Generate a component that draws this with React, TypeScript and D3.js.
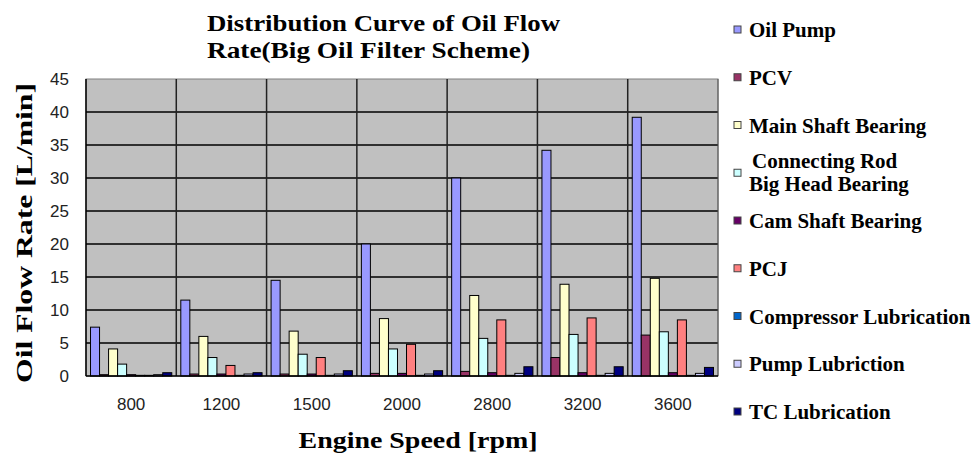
import React from "react";
import * as d3 from "d3";

const categories = ["800", "1200", "1500", "2000", "2800", "3200", "3600"];
const seriesNames = [
  "Oil Pump",
  "PCV",
  "Main Shaft Bearing",
  "Connecting Rod\nBig Head Bearing",
  "Cam Shaft Bearing",
  "PCJ",
  "Compressor Lubrication",
  "Pump Lubriction",
  "TC Lubrication",
];
const oilPump = [7.4, 11.5, 14.5, 20.0, 30.0, 34.2, 39.2];
const pcv = [0.2, 0.3, 0.3, 0.4, 0.7, 2.8, 6.2];
const mainShaft = [4.1, 6.0, 6.8, 8.7, 12.2, 13.9, 14.8];
const connRod = [1.8, 2.8, 3.3, 4.1, 5.7, 6.3, 6.7];
const camShaft = [0.2, 0.3, 0.3, 0.4, 0.5, 0.5, 0.5];
const pcj = [0.1, 1.6, 2.8, 4.8, 8.5, 8.8, 8.5];
const compressor = [0.1, 0.1, 0.1, 0.1, 0.1, 0.1, 0.1];
const pumpLub = [0.2, 0.3, 0.3, 0.3, 0.4, 0.4, 0.4];
const tcLub = [0.5, 0.5, 0.8, 0.8, 1.4, 1.4, 1.3];
const yTicks = [0, 5, 10, 15, 20, 25, 30, 35, 40, 45];

const seriesValues = [oilPump, pcv, mainShaft, connRod, camShaft, pcj, compressor, pumpLub, tcLub];
const colors = ["#9999FF", "#993366", "#FFFFCC", "#CCFFFF", "#660066", "#FF8080", "#0066CC", "#CCCCFF", "#000080"];

export default function App() {
  const W = 979, H = 462;
  const plot = { left: 86, right: 718, top: 79, bottom: 376 };
  const x0 = d3.scaleBand<string>().domain(categories).range([plot.left, plot.right]).paddingInner(0).paddingOuter(0);
  const x1 = d3
    .scaleBand<number>()
    .domain(seriesNames.map((_, i) => i))
    .range([0, x0.bandwidth()])
    .paddingInner(0)
    .paddingOuter(0.5);
  const y = d3.scaleLinear().domain([0, 45]).range([plot.bottom, plot.top]);
  const legendY = d3.scaleLinear().domain([0, 8]).range([37, 419]);
  const serif = "'Liberation Serif', 'Times New Roman', serif";
  const sans = "'Liberation Sans', Arial, sans-serif";

  return (
    <svg width={W} height={H} style={{ position: "absolute", left: 0, top: 0, background: "#fff" }}>
      <rect x={plot.left} y={plot.top} width={plot.right - plot.left} height={plot.bottom - plot.top} fill="#C0C0C0" stroke="#808080" strokeWidth={1} />
      {yTicks.filter((t) => t > 0 && t < 45).map((t) => (
        <line key={"g" + t} x1={plot.left} x2={plot.right} y1={y(t)} y2={y(t)} stroke="#000" strokeWidth={1.5} />
      ))}
      {categories.slice(1).map((c) => (
        <line key={"v" + c} x1={x0(c)!} x2={x0(c)!} y1={plot.top} y2={plot.bottom} stroke="#222" strokeWidth={1.5} />
      ))}
      <line x1={plot.right} x2={plot.right} y1={plot.top} y2={plot.bottom} stroke="#555" strokeWidth={1} />
      {categories.map((c, ci) =>
        seriesValues.map((vals, si) => {
          const v = vals[ci];
          const bx = x0(c)! + x1(si)!;
          return (
            <rect
              key={c + "-" + si}
              x={bx}
              y={y(v)}
              width={x1.bandwidth()}
              height={y(0) - y(v)}
              fill={colors[si]}
              stroke="#000"
              strokeWidth={1}
            />
          );
        })
      )}
      <line x1={plot.left} x2={plot.left} y1={plot.top} y2={plot.bottom} stroke="#000" strokeWidth={1.5} />
      <line x1={plot.left} x2={plot.right} y1={plot.bottom} y2={plot.bottom} stroke="#000" strokeWidth={1.5} />
      {yTicks.map((t) => (
        <text key={"yt" + t} x={69} y={y(t)} dy="0.35em" textAnchor="end" fontFamily={sans} fontSize={17} fill="#222">
          {t}
        </text>
      ))}
      {categories.map((c) => (
        <text key={"xt" + c} x={x0(c)! + x0.bandwidth() / 2} y={410} textAnchor="middle" fontFamily={sans} fontSize={17} fill="#222">
          {c}
        </text>
      ))}
      <text x={207} y={31} fontFamily={serif} fontWeight="bold" fontSize={24} textLength={353} lengthAdjust="spacingAndGlyphs" fill="#000">
        Distribution Curve of Oil Flow
      </text>
      <text x={207} y={58} fontFamily={serif} fontWeight="bold" fontSize={24} textLength={323} lengthAdjust="spacingAndGlyphs" fill="#000">
        Rate(Big Oil Filter Scheme)
      </text>
      <text
        transform={`translate(32,233) rotate(-90)`}
        textAnchor="middle"
        fontFamily={serif}
        fontWeight="bold"
        fontSize={23}
        textLength={300}
        lengthAdjust="spacingAndGlyphs"
        fill="#000"
      >
        Oil Flow Rate [L/min]
      </text>
      <text
        x={418}
        y={448}
        textAnchor="middle"
        fontFamily={serif}
        fontWeight="bold"
        fontSize={23}
        textLength={239}
        lengthAdjust="spacingAndGlyphs"
        fill="#000"
      >
        Engine Speed [rpm]
      </text>
      {seriesNames.map((name, i) => {
        const base = legendY(i);
        const lines = name.split("\n");
        return (
          <g key={"lg" + i}>
            <rect x={734} y={base - 11} width={7} height={7} fill={colors[i]} stroke="#444" strokeWidth={1} />
            {lines.length === 1 ? (
              <text x={749} y={base} fontFamily={serif} fontWeight="bold" fontSize={21} fill="#000">
                {name}
              </text>
            ) : (
              <>
                <text x={752} y={base - 12} fontFamily={serif} fontWeight="bold" fontSize={21} fill="#000">
                  {lines[0]}
                </text>
                <text x={749} y={base + 11} fontFamily={serif} fontWeight="bold" fontSize={21} fill="#000">
                  {lines[1]}
                </text>
              </>
            )}
          </g>
        );
      })}
    </svg>
  );
}
